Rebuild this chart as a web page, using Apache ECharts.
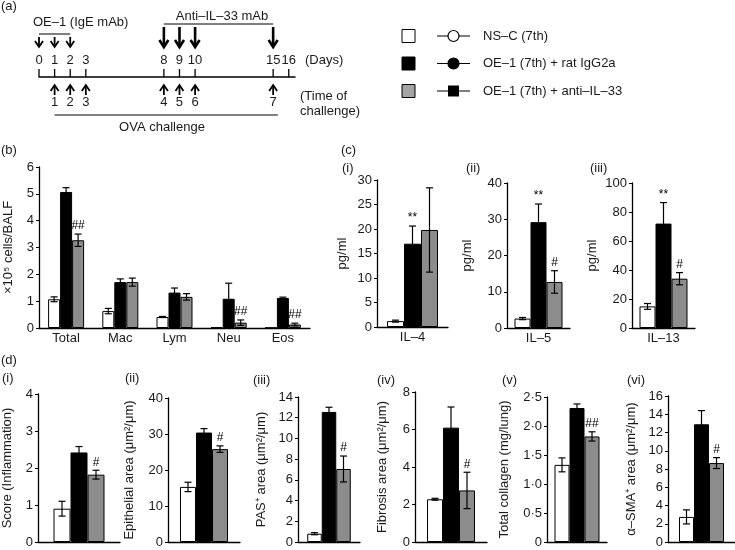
<!DOCTYPE html>
<html><head><meta charset="utf-8">
<script src="https://cdn.jsdelivr.net/npm/echarts@6/dist/echarts.min.js"></script>
<style>html,body{margin:0;padding:0;background:#fff}#c{width:735px;height:550px}</style>
</head><body><div id="c"></div>
<script>
const FONT = '"Liberation Sans", Arial, Helvetica, sans-serif';
const TXT = '#1a1a1a';

// ---------- groups ----------
const groupNames = ['NS–C (7th)', 'OE–1 (7th) + rat IgG2a', 'OE–1 (7th) + anti–IL–33'];
const groupColors = ['#ffffff', '#000000', '#8c8c8c'];
const legendSwatch = ['#ffffff', '#000000', '#a3a3a3'];

// ---------- panel (a) timeline ----------
const timelineDays = [0, 1, 2, 3, 8, 9, 10, 15, 16];
const oe1Days = [0, 1, 2];
const antiIL33Days = [8, 9, 10, 15];
const challengeDays = [1, 2, 3, 8, 9, 10, 15];
const challengeNumbers = [1, 2, 3, 4, 5, 6, 7];
const bracketSpans = [[0, 2], [8, 15], [1, 15.3]];

// ---------- panel (b) BALF cells ----------
const bCategories = ['Total', 'Mac', 'Lym', 'Neu', 'Eos'];
const bNSC = [1.07, 0.63, 0.41, 0.03, 0.01];
const bNSCErr = [0.09, 0.1, 0.02, 0, 0];
const bIgG = [5.07, 1.71, 1.32, 1.09, 1.12];
const bIgGErr = [0.16, 0.12, 0.17, 0.58, 0.03];
const bAnti = [3.27, 1.71, 1.16, 0.2, 0.13];
const bAntiErr = [0.23, 0.15, 0.12, 0.1, 0.05];
const bAntiMarks = ['##', '', '', '##', '##'];

// ---------- panel (c) cytokines (NS-C, IgG2a, anti-IL-33) ----------
const cIL4 = [1.2, 17.0, 19.8];
const cIL4Err = [0.2, 3.6, 8.6];
const cIL4Marks = ['', '**', ''];
const cIL5 = [2.6, 29.2, 12.7];
const cIL5Err = [0.3, 5.0, 3.1];
const cIL5Marks = ['', '**', '#'];
const cIL13 = [14.9, 72.0, 34.0];
const cIL13Err = [2.0, 14.5, 4.2];
const cIL13Marks = ['', '**', '#'];

// ---------- panel (d) histology (NS-C, IgG2a, anti-IL-33) ----------
const dInflammation = [0.9, 2.42, 1.82];
const dInflammationErr = [0.2, 0.16, 0.12];
const dInflammationMarks = ['', '', '#'];
const dEpithelial = [15.3, 30.4, 25.8];
const dEpithelialErr = [1.3, 1.1, 0.9];
const dEpithelialMarks = ['', '', '#'];
const dPAS = [0.8, 12.56, 7.05];
const dPASErr = [0.1, 0.45, 1.25];
const dPASMarks = ['', '', '#'];
const dFibrosis = [2.28, 6.1, 2.75];
const dFibrosisErr = [0.05, 1.1, 0.97];
const dFibrosisMarks = ['', '', '#'];
const dCollagen = [1.33, 2.31, 1.82];
const dCollagenErr = [0.12, 0.07, 0.08];
const dCollagenMarks = ['', '', '##'];
const dSMA = [2.75, 12.9, 8.65];
const dSMAErr = [0.77, 1.5, 0.6];
const dSMAMarks = ['', '', '#'];

// ---------- helpers ----------
const perGroup = arr => arr.map(v => [v]);
const axisLine = {show: true, onZero: false, lineStyle: {color: '#000', width: 1.3}};
const dotFmt = v => v === 0 ? '0' : v.toFixed(1).replace('.', '·');

function makeErr(k, bw, marks) {
  return function (params, api) {
    const i = api.value(0), m = api.value(1), e = api.value(2);
    const base = api.coord([i, m]);
    const x = base[0] + (k - 1) * bw;
    const children = [];
    let topY = base[1];
    const st = {stroke: '#000', lineWidth: 1.2};
    if (e > 0) {
      const yt = api.coord([i, m + e])[1];
      const yb = api.coord([i, Math.max(0, m - e)])[1];
      const cap = 3.5;
      children.push({type: 'line', shape: {x1: x, y1: yt, x2: x, y2: yb}, style: st});
      children.push({type: 'line', shape: {x1: x - cap, y1: yt, x2: x + cap, y2: yt}, style: st});
      children.push({type: 'line', shape: {x1: x - cap, y1: yb, x2: x + cap, y2: yb}, style: st});
      topY = yt;
    }
    const mk = marks ? marks[params.dataIndex] : '';
    if (mk) {
      children.push({type: 'text', style: {text: mk, x: x, y: topY - 2, align: 'center', verticalAlign: 'bottom',
        fontSize: 12, fontFamily: FONT, fill: '#000'}});
    }
    return {type: 'group', children};
  };
}

const panels = [
  {grid: {left: 39, top: 167, width: 271, height: 161}, cats: bCategories,
   means: [bNSC, bIgG, bAnti], errs: [bNSCErr, bIgGErr, bAntiErr], marks: [null, null, bAntiMarks],
   y: {min: 0, max: 6, interval: 1}, name: '×10⁵ cells/BALF', nameGap: 24, bw: 12, lm: 4},
  {grid: {left: 377, top: 180, width: 71, height: 147}, cats: ['IL–4'],
   means: perGroup(cIL4), errs: perGroup(cIL4Err), marks: perGroup(cIL4Marks),
   y: {min: 0, max: 30, interval: 5}, name: 'pg/ml', nameGap: 28, bw: 17, lm: 4},
  {grid: {left: 507, top: 183, width: 63, height: 145}, cats: ['IL–5'],
   means: perGroup(cIL5), errs: perGroup(cIL5Err), marks: perGroup(cIL5Marks),
   y: {min: 0, max: 40, interval: 10}, name: 'pg/ml', nameGap: 33, bw: 16, lm: 4},
  {grid: {left: 632, top: 183, width: 63, height: 145}, cats: ['IL–13'],
   means: perGroup(cIL13), errs: perGroup(cIL13Err), marks: perGroup(cIL13Marks),
   y: {min: 0, max: 100, interval: 20}, name: 'pg/ml', nameGap: 33, bw: 16, lm: 4},
  {grid: {left: 33, top: 394, width: 87, height: 148}, cats: [''],
   means: perGroup(dInflammation), errs: perGroup(dInflammationErr), marks: perGroup(dInflammationMarks),
   y: {min: 0, max: 4, interval: 1}, name: 'Score (Inflammation)', nameGap: 24, bw: 17},
  {grid: {left: 168, top: 398, width: 72, height: 144}, cats: [''],
   means: perGroup(dEpithelial), errs: perGroup(dEpithelialErr), marks: perGroup(dEpithelialMarks),
   y: {min: 0, max: 40, interval: 10}, name: 'Epithelial area (μm²/μm)', nameGap: 32, bw: 16},
  {grid: {left: 298, top: 397, width: 62, height: 145}, cats: [''],
   means: perGroup(dPAS), errs: perGroup(dPASErr), marks: perGroup(dPASMarks),
   y: {min: 0, max: 14, interval: 2}, name: 'PAS⁺ area (μm²/μm)', nameGap: 30, bw: 14.5},
  {grid: {left: 415, top: 392, width: 72, height: 150}, cats: [''],
   means: perGroup(dFibrosis), errs: perGroup(dFibrosisErr), marks: perGroup(dFibrosisMarks),
   y: {min: 0, max: 8, interval: 2}, name: 'Fibrosis area (μm²/μm)', nameGap: 26, bw: 16},
  {grid: {left: 547, top: 397, width: 60, height: 145}, cats: [''],
   means: perGroup(dCollagen), errs: perGroup(dCollagenErr), marks: perGroup(dCollagenMarks),
   y: {min: 0, max: 2.5, interval: 0.5, fmt: dotFmt}, name: 'Total collagen (mg/lung)', nameGap: 36, bw: 15},
  {grid: {left: 668, top: 396, width: 67, height: 146}, cats: [''],
   means: perGroup(dSMA), errs: perGroup(dSMAErr), marks: perGroup(dSMAMarks),
   y: {min: 0, max: 16, interval: 2}, name: 'α–SMA⁺ area (μm²/μm)', nameGap: 30, bw: 15}
];

const grids = [{left: 39, top: 20, width: 256, height: 57}];
const xAxes = [{gridIndex: 0, type: 'value', min: 0, max: 16.4, axisLine: {show: true, onZero: false, lineStyle: {color: '#000', width: 1.5}},
  axisTick: {show: false}, axisLabel: {show: false}, splitLine: {show: false}}];
const yAxes = [{gridIndex: 0, type: 'value', min: 0, max: 1, show: false}];
const series = [];

// --- timeline series ---
function arrowEls(x, yFrom, yTip, lw, hw, hl) {
  const dir = yTip > yFrom ? 1 : -1;
  const st = {stroke: '#000', lineWidth: lw, fill: null, lineJoin: 'miter'};
  return [
    {type: 'line', shape: {x1: x, y1: yFrom, x2: x, y2: yTip - dir * 1}, style: st},
    {type: 'polyline', shape: {points: [[x - hw, yTip - dir * hl], [x, yTip], [x + hw, yTip - dir * hl]]}, style: st}
  ];
}
series.push({
  type: 'custom', xAxisIndex: 0, yAxisIndex: 0, silent: true,
  data: timelineDays.map(d => [d, 0]), encode: {x: 0, y: 1},
  renderItem: (params, api) => {
    const p = api.coord([api.value(0), 0]);
    return {type: 'group', children: [
      {type: 'line', shape: {x1: p[0], y1: p[1] - 8, x2: p[0], y2: p[1]}, style: {stroke: '#000', lineWidth: 1.3}},
      {type: 'text', style: {text: String(api.value(0)), x: p[0], y: p[1] - 17, align: 'center', verticalAlign: 'middle',
        fontSize: 13, fontFamily: FONT, fill: TXT}}
    ]};
  }
});
series.push({
  type: 'custom', xAxisIndex: 0, yAxisIndex: 0, silent: true,
  data: oe1Days.map(d => [d, 0]), encode: {x: 0, y: 1},
  renderItem: (params, api) => {
    const p = api.coord([api.value(0), 0]);
    return {type: 'group', children: arrowEls(p[0], p[1] - 40, p[1] - 30, 1.8, 4, 6)};
  }
});
series.push({
  type: 'custom', xAxisIndex: 0, yAxisIndex: 0, silent: true,
  data: antiIL33Days.map(d => [d, 0]), encode: {x: 0, y: 1},
  renderItem: (params, api) => {
    const p = api.coord([api.value(0), 0]);
    return {type: 'group', children: arrowEls(p[0], p[1] - 50, p[1] - 30, 2.6, 4.5, 7)};
  }
});
series.push({
  type: 'custom', xAxisIndex: 0, yAxisIndex: 0, silent: true,
  data: challengeDays.map((d, i) => [d, 0, challengeNumbers[i]]), encode: {x: 0, y: 1},
  renderItem: (params, api) => {
    const p = api.coord([api.value(0), 0]);
    const els = arrowEls(p[0], p[1] + 18, p[1] + 8, 1.8, 4, 6);
    els.push({type: 'text', style: {text: String(api.value(2)), x: p[0], y: p[1] + 25, align: 'center', verticalAlign: 'middle',
      fontSize: 13, fontFamily: FONT, fill: TXT}});
    return {type: 'group', children: els};
  }
});
const bracketOffsets = [-43, -53, 38];
series.push({
  type: 'custom', xAxisIndex: 0, yAxisIndex: 0, silent: true,
  data: bracketSpans.map(s => [s[0], 0, s[1]]), encode: {x: [0, 2], y: 1},
  renderItem: (params, api) => {
    const a = api.coord([api.value(0), 0]);
    const b = api.coord([api.value(2), 0]);
    const y = a[1] + bracketOffsets[params.dataIndex];
    return {type: 'line', shape: {x1: a[0], y1: y, x2: b[0], y2: y}, style: {stroke: '#000', lineWidth: 1}};
  }
});

// --- bar panels ---
panels.forEach((p, idx) => {
  const gi = idx + 1;
  grids.push(p.grid);
  const showLabel = p.cats.some(c => c !== '');
  xAxes.push({gridIndex: gi, type: 'category', data: p.cats, axisLine: axisLine, axisTick: {show: false},
    axisLabel: {show: showLabel, color: TXT, fontSize: 13, fontFamily: FONT, margin: p.lm || 4}, splitLine: {show: false}});
  yAxes.push({gridIndex: gi, type: 'value', min: p.y.min, max: p.y.max, interval: p.y.interval,
    axisLine: axisLine, axisTick: {show: true, length: 3, lineStyle: {color: '#000', width: 1}},
    axisLabel: {color: TXT, fontSize: 13, fontFamily: FONT, margin: 5, formatter: p.y.fmt || (v => String(v))},
    splitLine: {show: false}, name: p.name, nameLocation: 'middle', nameGap: p.nameGap, nameRotate: 90,
    nameTextStyle: {color: TXT, fontSize: 13, fontFamily: FONT}});
  for (let k = 0; k < 3; k++) {
    series.push({type: 'bar', name: groupNames[k], xAxisIndex: gi, yAxisIndex: gi, data: p.means[k],
      barWidth: p.bw, barGap: '0%', silent: true,
      itemStyle: {color: groupColors[k], borderColor: '#000', borderWidth: 1}});
  }
  for (let k = 0; k < 3; k++) {
    series.push({type: 'custom', xAxisIndex: gi, yAxisIndex: gi, silent: true, z: 5,
      data: p.means[k].map((m, i) => [i, m, p.errs[k][i]]), encode: {x: 0, y: 1},
      renderItem: makeErr(k, p.bw, p.marks[k])});
  }
});

// --- annotations & legend (graphic) ---
const t = (text, x, y, extra) => Object.assign({type: 'text', x: x, y: y,
  style: {text: text, fontSize: 13, fontFamily: FONT, fill: TXT, verticalAlign: 'middle', align: 'left'}}, extra || {});
const graphics = [
  t('(a)', 1, 6), t('OE–1 (IgE mAb)', 33, 22), t('Anti–IL–33 mAb', 222, 16),
  t('(Days)', 305, 60), t('(Time of', 300, 96), t('challenge)', 300, 111), t('OVA challenge', 162, 127),
  t('(b)', 1, 150), t('(c)', 341, 150), t('(i)', 342, 168), t('(ii)', 466, 168), t('(iii)', 590, 168),
  t('(d)', 1, 360), t('(i)', 2, 378), t('(ii)', 125, 378), t('(iii)', 253, 380), t('(iv)', 377, 380),
  t('(v)', 502, 380), t('(vi)', 627, 380)
];
graphics[2].style.align = 'center';
graphics[6].style.align = 'center';
for (let k = 0; k < 3; k++) {
  const cy = 36 + 27.5 * k;
  graphics.push({type: 'rect', shape: {x: 402, y: cy - 6.5, width: 13, height: 13},
    style: {fill: legendSwatch[k], stroke: '#000', lineWidth: 1}});
  graphics.push({type: 'line', shape: {x1: 437, y1: cy, x2: 470, y2: cy}, style: {stroke: '#000', lineWidth: 1.2}});
  if (k === 2) {
    graphics.push({type: 'rect', shape: {x: 448, y: cy - 5.5, width: 11, height: 11}, style: {fill: '#000'}});
  } else {
    graphics.push({type: 'circle', shape: {cx: 453.5, cy: cy, r: 5.5},
      style: {fill: k === 0 ? '#fff' : '#000', stroke: '#000', lineWidth: 1.2}});
  }
  graphics.push(t(groupNames[k], 483, cy));
}

const chart = echarts.init(document.getElementById('c'), null, {renderer: 'canvas'});
chart.setOption({
  animation: false,
  backgroundColor: '#fff',
  textStyle: {fontFamily: FONT},
  grid: grids, xAxis: xAxes, yAxis: yAxes, series: series,
  graphic: {elements: graphics}
});
</script></body></html>
